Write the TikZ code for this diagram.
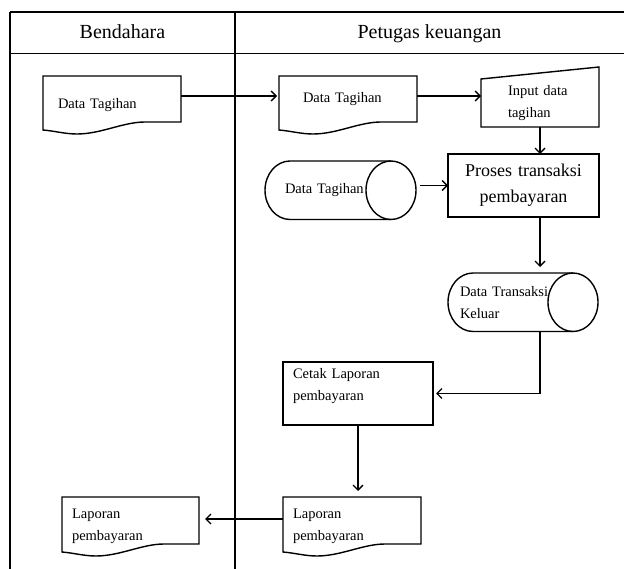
\documentclass[tikz,border=0pt]{standalone}
\usepackage{fontspec}
\setmainfont{Liberation Serif}
\usetikzlibrary{arrows.meta}

\tikzset{
  every node/.style={font=\fontsize{14.5}{22}\selectfont},
  shp/.style={line width=1.4pt},
  lane/.style={line width=1.4pt},
  arr/.style={shp,-{Straight Barb[length=5pt,width=10pt]}},
  body/.style={inner ysep=0pt, outer sep=0pt, anchor=north west, align=left},
  box/.style={body, draw, shp},
  % document: flat top, wavy bottom
  doc/.style={body, append after command={\pgfextra{
    \draw[shp,shift={(\tikzlastnode.south west)}]
      ([yshift=12pt]\tikzlastnode.south east) -- (\tikzlastnode.north east)
      -- (\tikzlastnode.north west) -- (0,4)
      .. controls (12,3) and (22,0) .. (34,0)
      .. controls (58,0) and (80,12) .. (102,12) -- cycle;}}},
  % stored data, lying on its side
  store/.style={body, append after command={\pgfextra{
    \draw[shp] ([xshift=-25pt]\tikzlastnode.north east)
      -- ([xshift=25pt]\tikzlastnode.north west)
      arc[start angle=90, end angle=270, x radius=25pt, y radius=29.25pt]
      -- ([xshift=-25pt]\tikzlastnode.south east);
    \draw[shp] ([xshift=-25pt]\tikzlastnode.east)
      ellipse[x radius=25pt, y radius=29.25pt];}}},
  % manual input
  manual/.style={body, append after command={\pgfextra{
    \draw[shp] (\tikzlastnode.north west) -- ([yshift=12pt]\tikzlastnode.north east)
      -- (\tikzlastnode.south east) -- (\tikzlastnode.south west) -- cycle;}}},
  head/.style={anchor=base, font=\fontsize{20}{24}\selectfont}
}

\begin{document}
\begin{tikzpicture}[x=1pt,y=1pt]
  \useasboundingbox (0,0) rectangle (624,-569);

  % swimlanes
  \draw[lane] (10,-12) -- (624,-12) (10,-53.5) -- (624,-53.5)
    (10,-12) -- (10,-569) (235,-12) -- (235,-569);
  \node[head] (bendahara) at (122.5,-38.5) {Bendahara};
  \node[head] (petugas) at (429.5,-38.5) {Petugas keuangan};

  % Bendahara
  \node[doc, minimum width=138, minimum height=58, inner xsep=15pt, text width=108pt]
    (tagihan1) at (43,-76) {Data Tagihan};
  \node[doc, minimum width=137, minimum height=59, inner xsep=10pt, text width=117pt]
    (laporan1) at (62,-497) {Laporan\\pembayaran};

  % Petugas keuangan
  \node[doc, minimum width=138, minimum height=58, inner xsep=24pt, text width=90pt, text depth=15pt]
    (tagihan2) at (279,-76) {Data Tagihan};
  \node[manual, minimum width=118, minimum height=48, inner xsep=27pt, text width=64pt]
    (input) at (481,-79) {Input data\\tagihan};
  \node[box, minimum width=151, minimum height=63, inner xsep=5pt, text width=141pt,
    align=center, font=\fontsize{18}{26}\selectfont]
    (proses) at (448,-154) {Proses transaksi\\pembayaran};
  \node[store, minimum width=151, minimum height=58.5, inner xsep=20pt, text width=111pt]
    (dbtagihan) at (265,-161) {Data Tagihan};
  \node[store, minimum width=150, minimum height=58.5, inner xsep=12pt, text width=126pt]
    (dbkeluar) at (448,-273) {Data Transaksi\\Keluar};
  \node[box, minimum width=150, minimum height=63, inner xsep=10pt, text width=130pt, text depth=40pt]
    (cetak) at (283,-362) {Cetak Laporan\\pembayaran};
  \node[doc, minimum width=138, minimum height=59, inner xsep=10pt, text width=118pt]
    (laporan2) at (283,-497) {Laporan\\pembayaran};

  % flow
  \coordinate (k1) at ([yshift=9pt]tagihan1.east);
  \coordinate (k2) at ([yshift=9pt]tagihan2.east);
  \coordinate (k3) at ([yshift=7.5pt]laporan2.west);
  \draw[arr, shorten >=2pt] (k1) -- (k1 -| tagihan2.west);
  \draw[arr] (k2) -- (k2 -| input.west);
  \draw[arr] (input.south) -- (input.south |- proses.north);
  \draw[arr, shorten <=4pt] (proses.west -| dbtagihan.east) -- (proses.west);
  \draw[arr, shorten >=6pt] (proses.south -| input.south) -- (dbkeluar.north -| input.south);
  \draw[arr, shorten >=3pt] (dbkeluar.south -| input.south) |- (cetak.east);
  \draw[arr, shorten >=6pt] (cetak.south) -- (cetak.south |- laporan2.north);
  \draw[arr, shorten >=6pt] (k3) -- (k3 -| laporan1.east);
\end{tikzpicture}
\end{document}
